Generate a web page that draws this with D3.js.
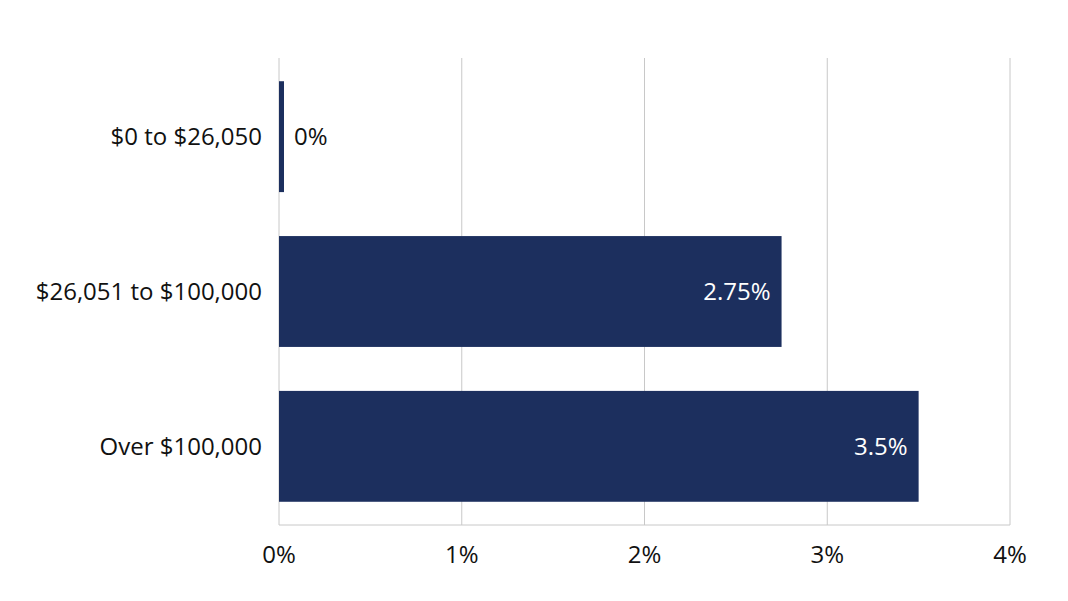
<!DOCTYPE html>
<html>
<head>
<meta charset="utf-8">
<script src="https://cdn.jsdelivr.net/npm/d3@7"></script>
<style>
  body { margin: 0; background: #fff; }
  svg { display: block; font-family: "Open Sans", "Noto Sans", sans-serif; }
</style>
</head>
<body>
<div id="chart"></div>
<script>
// data
var brackets = ["$0 to $26,050", "$26,051 to $100,000", "Over $100,000"]
var rates = [0, 2.75, 3.5]
var rateLabels = ["0%", "2.75%", "3.5%"]
var ticks = [0, 1, 2, 3, 4]

var width = 1068, height = 601
var plotLeft = 279, plotRight = 1010, plotTop = 58, plotBottom = 525
var barColor = "#1c2f5e"
var fontSize = 24

var svg = d3.select("#chart").append("svg")
            .attr("width", width)
            .attr("height", height)

var x = d3.scaleLinear().domain([0, 4]).range([plotLeft, plotRight])
var y = d3.scaleBand().domain(brackets).range([plotTop, plotBottom])
          .paddingInner(0.284).paddingOuter(0.15)

// gridlines
svg.append("g").selectAll("line")
   .data(ticks)
   .enter().append("line")
   .attr("x1", d => x(d)).attr("x2", d => x(d))
   .attr("y1", plotTop).attr("y2", plotBottom)
   .attr("stroke", "#c8c8c8")
   .attr("stroke-width", 1)

// bottom axis line
svg.append("line")
   .attr("x1", x(0)).attr("x2", x(4))
   .attr("y1", plotBottom).attr("y2", plotBottom)
   .attr("stroke", "#c8c8c8")

// bars
svg.append("g").selectAll("rect")
   .data(rates)
   .enter().append("rect")
   .attr("x", x(0))
   .attr("y", (d, i) => y(brackets[i]))
   .attr("width", d => Math.max(x(d) - x(0), 5))
   .attr("height", y.bandwidth())
   .attr("fill", barColor)

// value labels
svg.append("g").selectAll("text")
   .data(rates)
   .enter().append("text")
   .attr("x", d => d < 0.5 ? x(0) + 15 : x(d) - 11)
   .attr("y", (d, i) => y(brackets[i]) + y.bandwidth() / 2)
   .attr("dy", "0.35em")
   .attr("text-anchor", d => d < 0.5 ? "start" : "end")
   .attr("font-size", fontSize)
   .attr("fill", d => d < 0.5 ? "#111" : "#fff")
   .text((d, i) => rateLabels[i])

// category labels
svg.append("g").selectAll("text")
   .data(brackets)
   .enter().append("text")
   .attr("x", plotLeft - 17)
   .attr("y", d => y(d) + y.bandwidth() / 2)
   .attr("dy", "0.35em")
   .attr("text-anchor", "end")
   .attr("font-size", fontSize)
   .attr("fill", "#111")
   .text(d => d)

// tick labels
svg.append("g").selectAll("text")
   .data(ticks)
   .enter().append("text")
   .attr("x", d => x(d))
   .attr("y", 555)
   .attr("dy", "0.35em")
   .attr("text-anchor", "middle")
   .attr("font-size", fontSize)
   .attr("fill", "#111")
   .text(d => d + "%")
</script>
</body>
</html>
